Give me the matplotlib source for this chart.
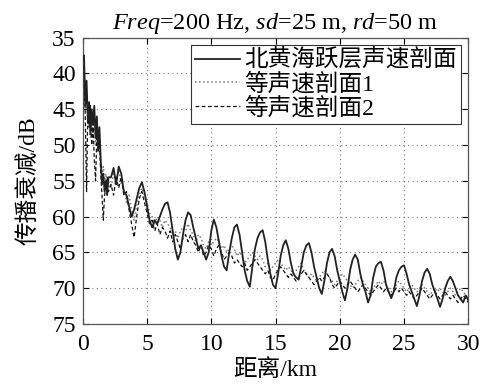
import matplotlib.pyplot as plt

plt.rcParams['font.family'] = ['Liberation Serif', 'Noto Sans CJK SC']
plt.rcParams['mathtext.fontset'] = 'custom'
plt.rcParams['mathtext.rm'] = 'Liberation Serif'
plt.rcParams['mathtext.it'] = 'Liberation Serif:italic'
plt.rcParams['font.size'] = 17

# range axis (km), finer near the source
range_km = [
    0.1, 0.2, 0.3, 0.4, 0.5, 0.6, 0.7, 0.8, 0.9, 1.0,
    1.1, 1.2, 1.3, 1.4, 1.5, 1.6, 1.7, 1.8, 1.9, 2.0,
    2.2, 2.4, 2.6, 2.8, 3.0, 3.2, 3.4, 3.6, 3.8, 4.0,
    4.2, 4.4, 4.6, 4.8, 5.0, 5.2, 5.4, 5.6, 5.8, 6.0,
    6.2, 6.4, 6.6, 6.8, 7.0, 7.2, 7.4, 7.6, 7.8, 8.0,
    8.2, 8.4, 8.6, 8.8, 9.0, 9.2, 9.4, 9.6, 9.8, 10.0,
    10.2, 10.4, 10.6, 10.8, 11.0, 11.2, 11.4, 11.6, 11.8, 12.0,
    12.2, 12.4, 12.6, 12.8, 13.0, 13.2, 13.4, 13.6, 13.8, 14.0,
    14.2, 14.4, 14.6, 14.8, 15.0, 15.2, 15.4, 15.6, 15.8, 16.0,
    16.2, 16.4, 16.6, 16.8, 17.0, 17.2, 17.4, 17.6, 17.8, 18.0,
    18.2, 18.4, 18.6, 18.8, 19.0, 19.2, 19.4, 19.6, 19.8, 20.0,
    20.2, 20.4, 20.6, 20.8, 21.0, 21.2, 21.4, 21.6, 21.8, 22.0,
    22.2, 22.4, 22.6, 22.8, 23.0, 23.2, 23.4, 23.6, 23.8, 24.0,
    24.2, 24.4, 24.6, 24.8, 25.0, 25.2, 25.4, 25.6, 25.8, 26.0,
    26.2, 26.4, 26.6, 26.8, 27.0, 27.2, 27.4, 27.6, 27.8, 28.0,
    28.2, 28.4, 28.6, 28.8, 29.0, 29.2, 29.4, 29.6, 29.8, 30.0,
]

# transmission loss (dB), thermocline profile of the North Yellow Sea
tl_thermo = [
    37.5, 44.5, 41.0, 46.5, 44.0, 48.5, 45.0, 47.0, 44.5, 49.0,
    46.0, 50.5, 47.5, 52.0, 55.5, 54.0, 56.5, 55.0, 57.0, 54.5,
    54.5, 53.2, 55.5, 53.0, 54.0, 56.5, 57.0, 58.5, 60.0, 59.0,
    57.5, 56.0, 55.2, 56.5, 58.5, 60.5, 61.5, 60.5, 61.0, 60.0,
    59.0, 58.2, 58.0, 59.5, 62.0, 64.5, 66.0, 65.0, 62.5, 60.5,
    59.4, 59.8, 61.5, 63.0, 64.5, 64.0, 65.0, 66.0, 65.0, 62.0,
    60.4, 61.5, 63.5, 65.5, 67.0, 67.5, 65.0, 63.0, 61.5, 61.1,
    62.5, 65.0, 67.5, 69.0, 69.8, 67.0, 64.5, 63.0, 62.2, 61.9,
    63.5, 66.0, 68.0, 69.5, 70.0, 68.0, 65.5, 64.0, 63.3, 64.5,
    66.5, 68.0, 68.5, 68.8, 67.0, 65.0, 64.0, 63.7, 65.0, 67.0,
    68.5, 70.0, 70.8, 69.0, 66.5, 65.0, 64.5, 65.5, 67.5, 69.0,
    70.5, 71.7, 70.0, 67.5, 66.0, 65.3, 66.0, 68.0, 69.5, 70.5,
    72.0, 71.0, 68.5, 67.0, 66.5, 66.3, 67.5, 69.5, 70.5, 71.4,
    70.5, 68.5, 67.5, 67.0, 66.8, 68.0, 69.5, 70.5, 71.5, 72.5,
    71.0, 69.0, 67.8, 67.3, 68.0, 69.5, 70.5, 71.5, 72.6, 71.5,
    70.0, 69.0, 68.4, 69.0, 70.0, 71.0, 71.5, 72.0, 71.0, 71.7,
]

# isovelocity profile 1
tl_iso1 = [
    38.5, 45.0, 43.0, 47.0, 45.5, 49.0, 46.0, 48.5, 45.5, 50.0,
    47.0, 51.0, 49.0, 53.0, 54.5, 53.0, 55.5, 54.0, 56.0, 55.0,
    56.0, 54.0, 55.0, 53.5, 55.5, 56.0, 58.0, 57.0, 59.0, 60.5,
    58.5, 57.0, 56.0, 57.0, 58.0, 59.5, 60.0, 61.0, 60.0, 60.5,
    61.5, 60.5, 61.0, 61.5, 62.5, 62.0, 63.0, 62.0, 61.5, 62.0,
    61.0, 62.0, 62.5, 63.5, 62.5, 63.0, 64.0, 64.5, 63.5, 64.0,
    63.5, 63.0, 63.5, 64.5, 64.0, 65.0, 64.5, 64.0, 64.5, 65.5,
    65.0, 65.5, 66.5, 66.0, 65.5, 65.0, 65.5, 66.0, 65.5, 66.0,
    67.0, 66.5, 67.5, 67.0, 66.5, 66.0, 66.5, 67.0, 67.5, 67.0,
    67.5, 68.0, 67.5, 67.0, 66.5, 67.5, 68.0, 68.5, 68.0, 68.5,
    69.0, 68.5, 68.0, 67.5, 68.0, 68.5, 69.0, 69.5, 69.0, 68.5,
    68.0, 68.5, 69.0, 69.5, 70.0, 69.5, 69.0, 68.5, 69.0, 69.5,
    70.0, 70.5, 70.0, 69.5, 69.0, 69.5, 69.0, 69.5, 70.0, 70.5,
    70.0, 69.5, 69.0, 69.5, 70.0, 70.5, 70.0, 69.5, 70.0, 70.5,
    70.0, 69.5, 70.0, 70.5, 71.0, 70.5, 70.0, 70.5, 70.0, 70.5,
    71.0, 70.5, 70.0, 70.5, 71.0, 70.5, 70.0, 70.5, 71.0, 71.5,
]

# isovelocity profile 2
tl_iso2 = [
    39.0, 46.0, 56.5, 45.0, 47.5, 44.5, 50.0, 47.0, 52.0, 55.0,
    48.5, 51.0, 49.5, 54.0, 57.0, 60.5, 57.0, 56.0, 54.5, 56.5,
    55.5, 57.0, 54.5, 56.0, 54.5, 57.0, 56.5, 59.0, 61.0, 62.9,
    60.0, 57.5, 56.5, 58.0, 59.5, 61.0, 60.5, 62.0, 61.0, 62.5,
    61.5, 62.0, 63.0, 62.0, 63.5, 62.5, 63.5, 64.5, 63.0, 62.5,
    63.5, 62.5, 63.5, 64.0, 65.0, 64.0, 65.5, 65.0, 64.0, 64.5,
    65.5, 64.5, 64.0, 65.0, 66.0, 65.5, 65.0, 65.5, 66.5, 66.0,
    66.5, 67.0, 66.5, 67.5, 67.0, 66.5, 66.0, 66.5, 67.0, 67.5,
    68.0, 67.5, 68.5, 68.9, 68.0, 67.5, 67.0, 67.5, 68.0, 68.5,
    68.0, 68.5, 69.0, 68.5, 68.0, 67.5, 68.0, 68.5, 69.0, 69.5,
    69.0, 68.5, 69.0, 68.5, 68.0, 68.5, 69.5, 70.0, 69.5, 69.0,
    69.5, 70.0, 69.5, 69.0, 69.5, 70.0, 70.5, 70.0, 69.5, 70.0,
    70.5, 71.0, 70.5, 70.0, 69.5, 70.0, 70.5, 70.0, 70.5, 71.0,
    70.5, 70.0, 70.5, 70.0, 70.5, 71.0, 70.5, 71.0, 71.5, 71.0,
    70.5, 70.0, 70.5, 71.0, 71.5, 71.0, 70.5, 71.0, 71.5, 71.0,
    70.5, 71.0, 71.5, 71.0, 71.5, 72.0, 71.5, 71.0, 71.5, 72.0,
]

labels = ['北黄海跃层声速剖面', '等声速剖面1', '等声速剖面2']

fig = plt.figure(figsize=(4.86, 3.89), dpi=100)
ax = fig.add_axes([0.1702, 0.1671, 0.7934, 0.7360])

ax.plot(range_km, tl_thermo, color='#222222', lw=1.3, label=labels[0], zorder=4)
ax.plot(range_km, tl_iso1, color='#7a7a7a', lw=1.1, ls=':', label=labels[1], zorder=3)
ax.plot(range_km, tl_iso2, color='#111111', lw=0.9, ls=(0, (3, 2)), label=labels[2], zorder=3)

ax.set_xlim(0, 30)
ax.set_ylim(75, 35)
ax.set_xticks(range(0, 31, 5))
ax.set_yticks(range(35, 76, 5))
ax.grid(True, ls=(0, (1, 3)), color='#777777', lw=0.8)
ax.tick_params(direction='in', top=True, right=True, length=4, width=0.8)
ax.tick_params(axis='x', pad=7)
ax.tick_params(axis='y', pad=5)
for sp in ax.spines.values():
    sp.set_color('#555555')
    sp.set_linewidth(0.9)

ax.set_xlabel('距离/km', labelpad=3)
ax.set_ylabel('传播衰减/dB', labelpad=9)
ax.set_title(r'$Freq$=200 Hz, $sd$=25 m, $rd$=50 m', fontsize=17.5, pad=6)

leg = ax.legend(loc='upper right', fancybox=False, framealpha=1, edgecolor='#333333',
                borderaxespad=0.3, handlelength=1.9, handletextpad=0.15,
                labelspacing=0.05, borderpad=0.2, fontsize=17)
leg.get_frame().set_linewidth(0.8)

plt.savefig('out.png', dpi=100)
